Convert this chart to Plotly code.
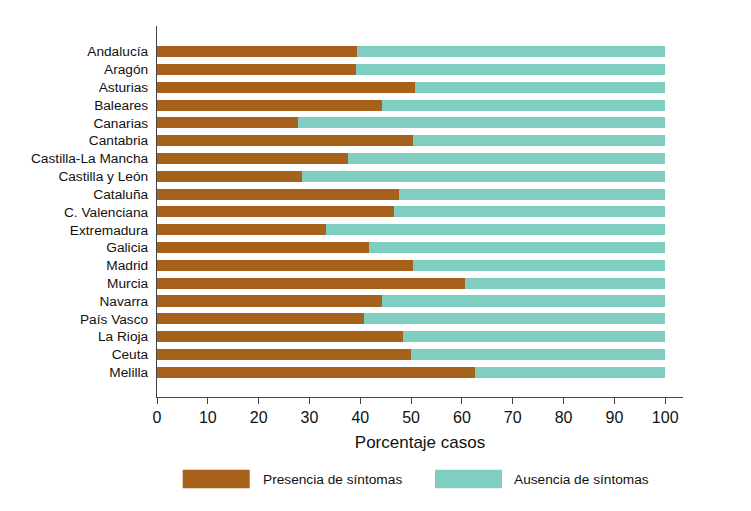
import plotly.graph_objects as go

regiones = ["Andalucía", "Aragón", "Asturias", "Baleares", "Canarias", "Cantabria",
            "Castilla-La Mancha", "Castilla y León", "Cataluña", "C. Valenciana",
            "Extremadura", "Galicia", "Madrid", "Murcia", "Navarra", "País Vasco",
            "La Rioja", "Ceuta", "Melilla"]
presencia = [39.4, 39.2, 50.7, 44.2, 27.8, 50.4, 37.6, 28.5, 47.7, 46.6,
             33.3, 41.8, 50.4, 60.7, 44.2, 40.7, 48.5, 50.0, 62.5]
ausencia = [round(100 - v, 1) for v in presencia]
x_ticks = [0, 10, 20, 30, 40, 50, 60, 70, 80, 90, 100]

BROWN = "#A6611A"
TEAL = "#80CDC1"
FONT = "Liberation Sans, Arial, sans-serif"

fig = go.Figure()
fig.add_trace(go.Bar(y=regiones, x=presencia, orientation="h", name="Presencia de síntomas",
                     marker=dict(color=BROWN, line=dict(width=0)), showlegend=False,
                     hovertemplate="%{y}: %{x}%<extra></extra>"))
fig.add_trace(go.Bar(y=regiones, x=ausencia, orientation="h", name="Ausencia de síntomas",
                     marker=dict(color=TEAL, line=dict(width=0)), showlegend=False,
                     hovertemplate="%{y}: %{x}%<extra></extra>"))

# page body has an 8px offset; margins are in figure coordinates
OFF = 8
W, H = 751, 511
L, R, T, B = 157 - OFF, W - (683 - OFF), 26 - OFF, H - (397.3 - OFF)
pw, ph = W - L - R, H - T - B
def px(xp):
    return (xp - OFF - L) / pw
def py(yp):
    return (H - B - (yp - OFF)) / ph

# legend drawn as swatches + labels
legend_items = [("Presencia de síntomas", BROWN, 182.7, 260.7),
                ("Ausencia de síntomas", TEAL, 435.0, 511.7)]
for label, color, sx, tx in legend_items:
    fig.add_shape(type="rect", xref="paper", yref="paper",
                  x0=px(sx), x1=px(sx + 67), y0=py(488.5), y1=py(470),
                  fillcolor=color, line=dict(width=0))
    fig.add_annotation(xref="paper", yref="paper", x=px(tx), y=py(479.5),
                       text=label, showarrow=False, xanchor="left", yanchor="middle",
                       font=dict(family=FONT, size=13.7, color="#111"))

fig.update_layout(
    barmode="stack",
    bargap=0.38,
    width=W, height=H,
    margin=dict(l=L, r=R, t=T, b=B),
    paper_bgcolor="white", plot_bgcolor="white",
    font=dict(family=FONT, color="#111"),
    xaxis=dict(range=[0, 103.5], tickvals=x_ticks, ticks="outside", ticklen=6,
               tickcolor="#444", showline=True, linecolor="#444", linewidth=1.2,
               showgrid=False, zeroline=False,
               tickfont=dict(family=FONT, size=16, color="#111"),
               title=dict(text="Porcentaje casos", standoff=10,
                          font=dict(family=FONT, size=17, color="#111"))),
    yaxis=dict(type="category", categoryorder="array", categoryarray=regiones,
               range=[18 + 1.39, -1.44], showline=True, linecolor="#444", linewidth=1.2,
               showgrid=False, zeroline=False, ticks="", ticklabelstandoff=5,
               tickfont=dict(family=FONT, size=13.7, color="#111")),
)

fig.write_html("out.html")
